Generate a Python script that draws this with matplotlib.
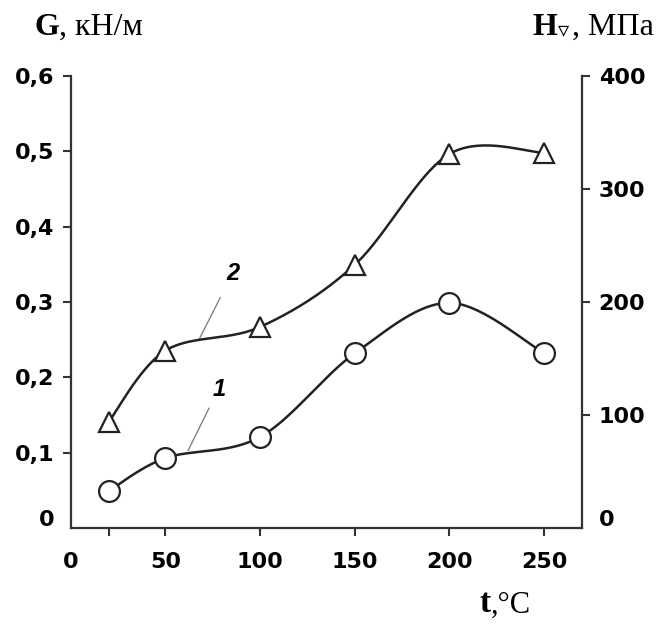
import numpy as np
import matplotlib
matplotlib.use("Agg")
import matplotlib.pyplot as plt
from matplotlib.transforms import ScaledTranslation

# temperature, deg C
t = [20, 50, 100, 150, 200, 250]
# curve 1: G, kN/m (left axis)
G = [0.049, 0.093, 0.121, 0.232, 0.299, 0.232]
# curve 2: Hv, MPa (right axis)
Hv = [94, 157, 178, 233, 331, 332]

xticks = [0, 20, 50, 100, 150, 200, 250]
xlabels = ['0', '', '50', '100', '150', '200', '250']
gticks = [0, 0.1, 0.2, 0.3, 0.4, 0.5, 0.6]
glabels = ['0', '0,1', '0,2', '0,3', '0,4', '0,5', '0,6']
hticks = [0, 100, 200, 300, 400]


def smooth(x, y, n=60):
    # bezier smoothing through the points, like a spreadsheet "smoothed line"
    p = np.column_stack([x, y]).astype(float)
    out = []
    for i in range(len(p) - 1):
        p0 = p[i]
        p3 = p[i + 1]
        prev = p[i - 1] if i > 0 else p[i]
        nxt = p[i + 2] if i + 2 < len(p) else p[i + 1]
        c1 = p0 + (p3 - prev) / 6
        c2 = p3 - (nxt - p0) / 6
        s = np.linspace(0, 1, n)[:, None]
        seg = (1-s)**3*p0 + 3*(1-s)**2*s*c1 + 3*(1-s)*s**2*c2 + s**3*p3
        out.append(seg if i == 0 else seg[1:])
    out = np.vstack(out)
    return out[:, 0], out[:, 1]


fig = plt.figure(figsize=(6.64, 6.25), dpi=100)
ax = fig.add_axes([0.1065, 0.155, 0.77, 0.7234])
ax2 = ax.twinx()

col = '#222222'
sx, sy = smooth(t, G)
ax.plot(sx, sy, color=col, lw=1.8, zorder=2)
ax.plot(t, G, 'o', ms=15, mfc='white', mec=col, mew=1.6, zorder=3)

hx, hy = smooth(t, Hv)
ax2.plot(hx, hy, color=col, lw=1.8, zorder=2)
ax2.plot(t, Hv, '^', ms=15, mfc='white', mec=col, mew=1.6, zorder=3)

ax.set_xlim(0, 270)
ax.set_ylim(0, 0.6)
ax2.set_ylim(0, 400)

ax.set_xticks(xticks)
ax.set_xticklabels(xlabels)
ax.set_yticks(gticks)
ax.set_yticklabels(glabels)
ax2.set_yticks(hticks)

for a in (ax, ax2):
    a.spines['top'].set_visible(False)
    for s in a.spines.values():
        s.set_linewidth(1.6)
        s.set_color('#333333')
    a.tick_params(direction='out', length=6, width=1.5, color='#333333',
                  labelsize=16, pad=6)
ax.tick_params(axis='x', pad=11)
ax2.spines['left'].set_visible(False)
ax.spines['right'].set_visible(False)
ax2.spines['bottom'].set_visible(False)

for lab in ax.get_xticklabels() + ax.get_yticklabels() + ax2.get_yticklabels():
    lab.set_fontfamily('DejaVu Sans')
    lab.set_fontweight('bold')

# no tick marks at the origin, and the zero labels sit a bit higher
ax.get_xticklines()[0].set_visible(False)
ax.get_yticklines()[0].set_visible(False)
ax2.get_yticklines()[1].set_visible(False)
up = ScaledTranslation(0, 0.1, fig.dpi_scale_trans)
for lab in (ax.get_yticklabels()[0], ax2.get_yticklabels()[0]):
    lab.set_transform(lab.get_transform() + up)

# curve labels with leader lines
ax.plot([79, 67.5], [0.306, 0.249], color='#777777', lw=0.9)
ax.text(85.5, 0.338, '2', fontsize=17, fontweight='bold', style='italic',
        family='Liberation Sans', ha='center', va='center')
ax.plot([73, 62], [0.159, 0.103], color='#777777', lw=0.9)
ax.text(78.5, 0.184, '1', fontsize=17, fontweight='bold', style='italic',
        family='Liberation Sans', ha='center', va='center')

# axis titles: bold letter followed by regular units
serif = ['Liberation Serif', 'DejaVu Serif']
g = fig.text(0.052, 0.944, 'G', fontsize=23, fontweight='bold', family=serif,
             ha='left', va='baseline')
ax.annotate(', кН/м', xy=(1, 0), xycoords=g, fontsize=23, family=serif,
            ha='left', va='bottom', annotation_clip=False)

h = fig.text(0.802, 0.944, 'H', fontsize=23, fontweight='bold', family=serif,
             ha='left', va='baseline')
ax.annotate('▿', xy=(1, 0), xycoords=h, xytext=(0.5, 1),
            textcoords='offset points', fontsize=16,
            family=['DejaVu Sans'], ha='left', va='bottom',
            annotation_clip=False)
ax.annotate(', МПа', xy=(1, 0), xycoords=h, xytext=(10.5, 0),
            textcoords='offset points', fontsize=23, family=serif,
            ha='left', va='bottom', annotation_clip=False)

tt = fig.text(0.722, 0.02, 't', fontsize=24, fontweight='bold', family=serif,
              ha='left', va='baseline')
ax.annotate(',°C', xy=(1, 0), xycoords=tt, fontsize=22, family=serif,
            ha='left', va='bottom', annotation_clip=False)

fig.savefig('out.png', dpi=100)
